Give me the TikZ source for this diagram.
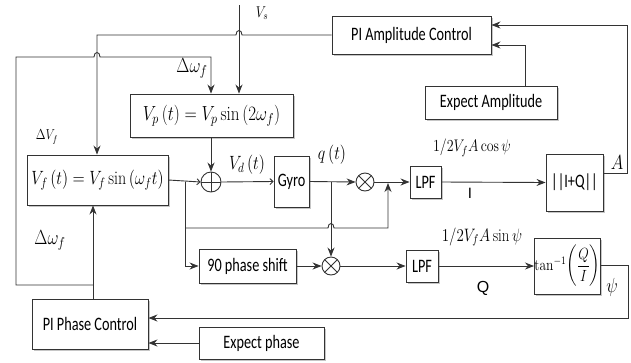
\RequirePackage{fix-cm}
\documentclass[tikz,border=0pt]{standalone}
\usepackage{amsmath}
\usepackage{graphicx}
\usepackage{fontspec}
\newfontfamily\labf{Carlito}[FakeStretch=0.75]
\newfontfamily\arf{Liberation Sans}
\usetikzlibrary{arrows.meta,shadows,calc}
\definecolor{linec}{HTML}{333333}
\newcommand{\mlab}[2][15]{\scalebox{1}[1.2]{\fontsize{#1}{#1}\selectfont$#2$}}
\begin{document}
\begin{tikzpicture}[x=1pt,y=-1pt,line width=0.9pt,
  box/.style={draw=linec,fill=white,line width=0.9pt,inner sep=0pt,
    font=\labf\fontsize{19}{22}\selectfont,text=black,
    drop shadow={shadow xshift=1.5pt,shadow yshift=-1.5pt,fill=gray!45,opacity=1}},
  arr/.style={draw=linec,-{Stealth[length=9pt,width=7pt]}},
  sarr/.style={draw=linec,-{Straight Barb[length=3pt,width=6pt]}},
  sumc/.style={circle,draw=linec,fill=white,minimum size=20pt,inner sep=0pt,
    path picture={\draw[linec] (path picture bounding box.north) -- (path picture bounding box.south)
      (path picture bounding box.west) -- (path picture bounding box.east);}},
  mulc/.style={circle,draw=linec,fill=white,minimum size=18pt,inner sep=0pt,
    path picture={\draw[linec] ([shift={(45:9pt)}]path picture bounding box.center) -- ([shift={(225:9pt)}]path picture bounding box.center)
      ([shift={(135:9pt)}]path picture bounding box.center) -- ([shift={(315:9pt)}]path picture bounding box.center);}},
  lab/.style={inner sep=0pt}
]
\useasboundingbox (0,0) rectangle (631,362);

% boxes
\node[box,minimum width=159pt,minimum height=38pt] (pia) at (411.5,35) {PI Amplitude Control};
\node[box,minimum width=132pt,minimum height=33pt] (ea) at (491,102.5) {Expect Amplitude};
\node[box,minimum width=163pt,minimum height=43pt] (vp) at (211.5,115.5) {\mlab[17]{V_p\left(t\right)=V_p\sin\left(2\omega_f\right)}};
\node[box,minimum width=141pt,minimum height=50pt] (vf) at (97.5,180) {\mlab[16]{V_f\left(t\right)=V_f\sin\left(\omega_f t\right)}};
\node[box,minimum width=35pt,minimum height=51pt] (gyro) at (291.5,181.5) {Gyro};
\node[box,minimum width=31pt,minimum height=32pt] (lpfa) at (425.5,182) {LPF};
\node[box,minimum width=57pt,minimum height=57pt] (iq) at (574.5,182.5) {||I+Q||};
\node[box,minimum width=97pt,minimum height=34pt] (ps) at (247.5,266) {90 phase shift};
\node[box,minimum width=32pt,minimum height=32pt] (lpfb) at (422,266) {LPF};
\node[box,minimum width=59pt,minimum height=56pt] (tan) at (567.5,266) {\scalebox{1}[1.2]{\fontsize{13.5}{13.5}\selectfont$\tan^{-1}\!\left(\dfrac{Q}{I}\right)$}};
\node[box,minimum width=116pt,minimum height=50pt] (pip) at (90,324) {PI Phase Control};
\node[box,minimum width=125pt,minimum height=32pt] (ep) at (261.5,343) {Expect phase};
\node[sumc] (sum) at (211,182) {};
\node[mulc] (m1) at (365,182) {};
\node[mulc] (m2) at (331,266) {};

% bend points
\coordinate (vsin) at (239,5);
\coordinate (pa1) at (97,35);
\coordinate (jn) at (93,285);
\coordinate (lc1) at (16,285);
\coordinate (lc2) at (16,57);
\coordinate (b1) at (185,182);
\coordinate (b2) at (185,228);
\coordinate (b3) at (388,228);
\coordinate (b4) at (331,182);
\coordinate (r1) at (627,173);
\coordinate (r2) at (627,25);
\coordinate (e1) at (525,45);
\coordinate (t1) at (628,265);
\coordinate (t2) at (628,318);

% connectors
\draw[arr] (vsin) -- (vsin |- vp.north);
\draw[arr] (pia.west) -- (242,35) .. controls (242,29) and (236,29) .. (236,35) -- (pa1) -- (pa1 |- vf.north);
\draw[arr] (jn) -- (lc1) -- (lc2) -- (94,57) .. controls (94,51) and (100,51) .. (100,57) -- (sum |- lc2) -- (sum |- vp.north);
\draw[arr] (pip.north -| jn) -- (vf.south -| jn);
\draw[sarr] (vf.east) -- (sum.west);
\draw[arr] (vp.south -| sum) -- (sum.north);
\draw[arr] (b1) -- (b1 |- ps.west) -- (ps.west);
\draw[arr] (b2) -- (328,228) .. controls (328,222) and (334,222) .. (334,228) -- (b3) -- ([yshift=-1pt]b3 |- m1);
\draw[sarr] (sum.east) -- (gyro.west);
\draw[arr] (gyro.east) -- (m1.west);
\draw[arr] (b4) -- (m2.north);
\draw[arr] (m1.east) -- (lpfa.west);
\draw[arr] (lpfa.east) -- (iq.west);
\draw[arr] (iq.east |- r1) -- (r1) -- (r2) -- (pia.east |- r2);
\draw[arr] (ea.north -| e1) -- (e1) -- (pia.east |- e1);
\draw[arr] (ps.east) -- (m2.west);
\draw[arr] (m2.east) -- (lpfb.west);
\draw[arr] (lpfb.east) -- (tan.west);
\draw[arr] (tan.east |- t1) -- (t1) -- (t2) -- (pip.east |- t2);
\draw[arr] (ep.west) -- (pip.east |- ep.west);

% labels
\node[lab] (lvs) at (262,13) {\mlab[13]{V_s}};
\node[lab] (ldw1) at (192,68) {\mlab[17]{\Delta\omega_f}};
\node[lab] (ldv) at (47,137) {\mlab[12]{\Delta V_f}};
\node[lab] (ldw2) at (50,240) {\mlab[17]{\Delta\omega_f}};
\node[lab] (lvd) at (247,165) {\mlab[16]{V_d\left(t\right)}};
\node[lab] (lq) at (332,155) {\mlab[16]{q\left(t\right)}};
\node[lab] (lcos) at (472,148) {\mlab[14]{1/2V_fA\cos\psi}};
\node[lab] (li) at (470,193) {\arf\fontsize{15}{15}\selectfont I};
\node[lab] (la) at (617,163) {\mlab[17]{A}};
\node[lab] (lsin) at (482,237) {\mlab[15]{1/2V_fA\sin\psi}};
\node[lab] (lqq) at (483,288) {\arf\fontsize{16}{16}\selectfont Q};
\node[lab] (lpsi) at (612,287) {\mlab[17]{\psi}};
\end{tikzpicture}
\end{document}
